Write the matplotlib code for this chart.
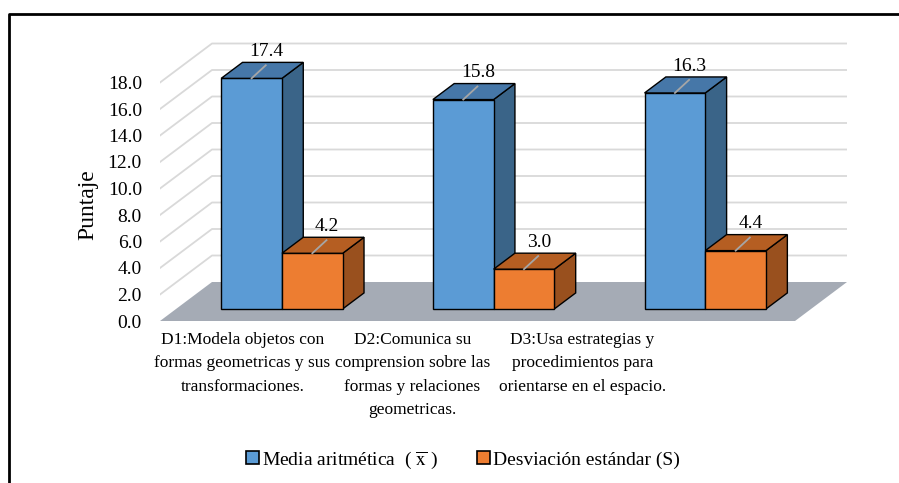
import numpy as np
import matplotlib.pyplot as plt
from matplotlib.patches import Polygon, Patch

plt.rcParams['font.family'] = ['Liberation Serif', 'DejaVu Serif']
plt.rcParams['mathtext.fontset'] = 'stix'

categorias = ['D1:Modela objetos con\nformas geometricas y sus\ntransformaciones.',
              'D2:Comunica su\ncomprension sobre las\nformas y relaciones\ngeometricas.',
              'D3:Usa estrategias y\nprocedimientos para\norientarse en el espacio.']
media = [17.4, 15.8, 16.3]
desviacion = [4.2, 3.0, 4.4]
series = [r'Media aritmética  ( $\overline{\mathrm{x}}$ )', 'Desviación estándar (S)']
yticks = np.arange(0, 20, 2)

# oblique projection: depth z in [0, 1] shifts a point right and up
DX = 0.2456
DY = 2.943
Z0, Z1 = 0.31, 0.72
BW = 0.287

def proj(x, v, z):
    return (x + z * DX, v + z * DY)

colores = {
    'blue': ('#5B9BD5', '#4677A8', '#3A6488'),
    'orange': ('#ED7D31', '#B55E22', '#99501E'),
}

def caja(ax, x0, x1, v, cols):
    front, top, side = cols
    cara = [proj(x0, 0, Z0), proj(x1, 0, Z0), proj(x1, v, Z0), proj(x0, v, Z0)]
    tapa = [proj(x0, v, Z0), proj(x1, v, Z0), proj(x1, v, Z1), proj(x0, v, Z1)]
    lado = [proj(x1, 0, Z0), proj(x1, 0, Z1), proj(x1, v, Z1), proj(x1, v, Z0)]
    for pts, c in [(lado, side), (cara, front), (tapa, top)]:
        ax.add_patch(Polygon(pts, closed=True, facecolor=c, edgecolor='black',
                             linewidth=1.0, joinstyle='miter', zorder=5))
    # data label with leader line
    xc = (x0 + x1) / 2
    p0 = proj(xc, v, Z0)
    p1 = proj(xc + 0.067, v + 1.9 - Z0 * DY, Z0)
    ax.plot([p0[0], p1[0]], [p0[1], p1[1]], color='#A6A6A6', lw=1.3, zorder=6)
    ax.text(xc + 0.07 + Z0 * DX, v + 2.3, f'{v:.1f}', ha='center', va='bottom',
            fontsize=14, zorder=7)


fig = plt.figure(figsize=(8.99, 4.83), dpi=100)
W, H = 899, 483
left_px, right_px, bottom_px, top_px = 160, 847, 321, 40
ax = fig.add_axes([left_px / W, 1 - bottom_px / H,
                   (right_px - left_px) / W, (bottom_px - top_px) / H])
ax.set_xlim(-0.5, 2.5 + DX)
ax.set_ylim(0, (bottom_px - top_px) / 13.25)
for s in ax.spines.values():
    s.set_visible(False)

# back wall and side gridlines
for t in yticks[1:]:
    a = proj(-0.5, t, 0)
    b = proj(-0.5, t, 1)
    c = proj(2.5, t, 1)
    ax.plot([a[0], b[0], c[0]], [a[1], b[1], c[1]], color='#D9D9D9', lw=1.3, zorder=1)

# floor
piso = [proj(-0.5, 0, 0), proj(2.5, 0, 0), proj(2.5, 0, 1), proj(-0.5, 0, 1)]
ax.add_patch(Polygon(piso, closed=True, facecolor='#A5ABB5', edgecolor='none', zorder=2))

x = np.arange(len(categorias))
for i in range(len(categorias)):
    caja(ax, x[i] - BW, x[i], media[i], colores['blue'])
    caja(ax, x[i], x[i] + BW, desviacion[i], colores['orange'])

ax.set_yticks(yticks)
ax.set_yticklabels([f'{t:.1f}' for t in yticks], fontsize=14)
ax.tick_params(axis='y', length=0, pad=13)
ax.set_ylabel('Puntaje', fontsize=17)
ax.yaxis.set_label_coords(-0.09, 0.415)

# category labels sit closer together than the bars
ax.set_xticks(-0.11 + 0.803 * x)
ax.set_xticklabels(categorias, fontsize=12.5, linespacing=1.6)
ax.tick_params(axis='x', length=0, pad=8)

handles = [Patch(facecolor=colores['blue'][0], edgecolor='black', lw=1.2),
           Patch(facecolor=colores['orange'][0], edgecolor='black', lw=1.2)]
fig.legend(handles, series, loc='center', bbox_to_anchor=(463 / W, 1 - 460 / H),
           ncol=2, frameon=False, fontsize=14, handlelength=0.65, handleheight=0.65,
           handletextpad=0.15, columnspacing=2.0)

# outer frame
fig.add_artist(plt.Line2D([9 / W, 9 / W, 1], [0, 1 - 14 / H, 1 - 14 / H],
                          transform=fig.transFigure, color='black', lw=2))

fig.savefig('out.png', dpi=100)
